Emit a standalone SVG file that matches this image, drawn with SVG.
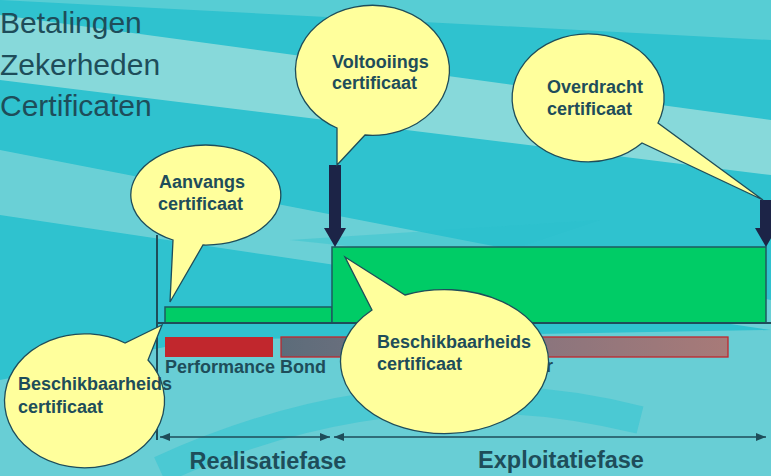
<svg xmlns="http://www.w3.org/2000/svg" width="771" height="476" viewBox="0 0 771 476">
<style>
.title{font-family:"Liberation Sans",Arial,sans-serif;font-size:30px;fill:#1e4d5a}
.lbl{font-family:"Liberation Sans",Arial,sans-serif;font-weight:bold;font-size:18px;fill:#1e4d5a}
.phase{font-family:"Liberation Sans",Arial,sans-serif;font-weight:bold;font-size:23.5px;fill:#1e4d5a}
.bubble{fill:#ffff9c;stroke:#1e4d5a;stroke-width:1.3}
.green{fill:#00cc66;stroke:#1e5a60;stroke-width:1.5}
.dark{fill:#1c2447}
.axis{stroke:#1e4d5a;stroke-width:1.3;fill:none}
</style>
<defs>
<linearGradient id="bar" x1="0" y1="0" x2="1" y2="0">
<stop offset="0" stop-color="#5c6c7a"/>
<stop offset="0.35" stop-color="#7a7280"/>
<stop offset="1" stop-color="#a87a78"/>
</linearGradient>
<marker id="ah" viewBox="0 0 10 10" refX="10" refY="5" markerWidth="8" markerHeight="8" orient="auto-start-reverse">
<path d="M0,1 L10,5 L0,9 z" fill="#1e4d5a"/>
</marker>
</defs>
<g id="background">
<rect width="771" height="476" fill="#2fc2cf"/>
<polygon points="0,15 771,120 771,175 0,80" fill="#a6e0de" opacity="0.75"/>
<polygon points="0,150 771,300 771,330 0,215" fill="#9adcdc" opacity="0.55"/>
<polygon points="0,0 771,0 771,40 0,0" fill="#7fd7d9" opacity="0.5"/>
<polygon points="0,380 200,340 771,330 771,476 0,476" fill="#8fd6d9" opacity="0.6"/>
<path d="M160,470 Q400,360 640,420" stroke="#2ec4d2" stroke-width="28" fill="none" opacity="0.5"/>
<polygon points="290,240 600,220 480,260" fill="#2bc0cc" opacity="0.4"/>
</g>
<g id="title">
<text class="title" x="0" y="33">Betalingen</text>
<text class="title" x="0" y="75">Zekerheden</text>
<text class="title" x="0" y="116">Certificaten</text>
</g>
<g id="bars">
<rect x="165" y="337" width="108" height="20" fill="#c1272d"/>
<rect x="281" y="337" width="447" height="20" fill="url(#bar)" stroke="#c1272d" stroke-width="1.3"/>
<text class="lbl" x="165" y="373">Performance Bond</text>
<text class="lbl" x="546" y="372">r</text>
</g>
<g id="timeline">
<rect class="green" x="165" y="307" width="167" height="16"/>
<rect class="green" x="332" y="247" width="434" height="76"/>
<line x1="157" y1="235" x2="157" y2="440" stroke="#1e4d5a" stroke-width="2"/>
<line x1="157" y1="323" x2="771" y2="323" stroke="#1e4d5a" stroke-width="2"/>
</g>
<g id="connectors">
<line class="axis" x1="160" y1="437" x2="330" y2="437" marker-start="url(#ah)" marker-end="url(#ah)"/>
<line class="axis" x1="334" y1="437" x2="766" y2="437" marker-start="url(#ah)" marker-end="url(#ah)"/>
<path class="dark" d="M329,165 H341 V228 H346 L335,247 L324,228 H329 Z"/>
<path class="dark" d="M760,200 H772 V228 H777 L766,247 L755,228 H760 Z"/>
</g>
<g id="phases">
<text class="phase" x="268" y="469" text-anchor="middle">Realisatiefase</text>
<text class="phase" x="561" y="468" text-anchor="middle">Exploitatiefase</text>
</g>
<g id="aanvangs">
<path class="bubble" d="M173,240 A75,50 0 1 1 203,245 L170,302 Z"/>
<text class="lbl" x="159" y="188">Aanvangs</text>
<text class="lbl" x="158" y="210">certificaat</text>
</g>
<g id="voltooiings">
<path class="bubble" d="M337,128 A77,65 0 1 1 365,135 L337,165 Z"/>
<text class="lbl" x="332" y="68">Voltooiings</text>
<text class="lbl" x="332" y="89">certificaat</text>
</g>
<g id="overdracht">
<path class="bubble" d="M658,123 A76,64 0 1 0 642,143 L763,200 Z"/>
<text class="lbl" x="547" y="93">Overdracht</text>
<text class="lbl" x="547" y="115">certificaat</text>
</g>
<g id="beschikbaarheids-left">
<path class="bubble" d="M148,360 A80,67 0 1 1 125,343 L162,325 Z"/>
<text class="lbl" x="18" y="390">Beschikbaarheids</text>
<text class="lbl" x="18" y="413">certificaat</text>
</g>
<g id="beschikbaarheids-right">
<path class="bubble" d="M372,310 A104,72 0 1 0 405,295 L345,257 Z"/>
<text class="lbl" x="377" y="348">Beschikbaarheids</text>
<text class="lbl" x="377" y="370">certificaat</text>
</g>
</svg>
